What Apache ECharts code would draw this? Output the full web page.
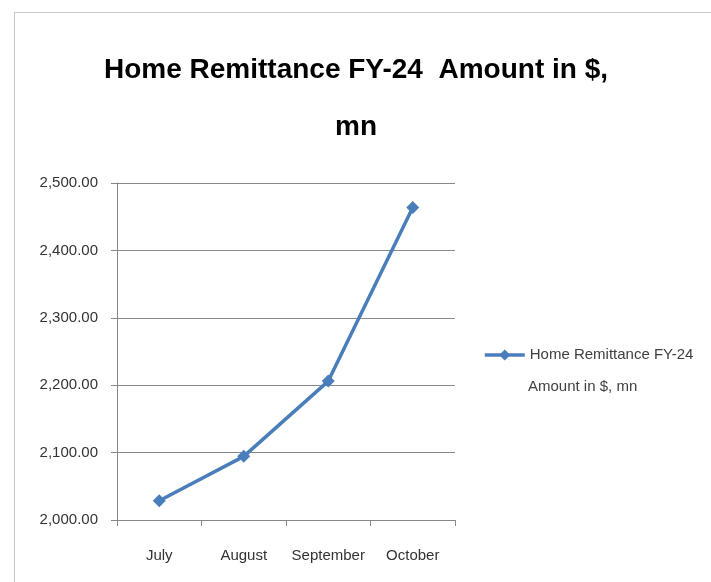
<!DOCTYPE html>
<html>
<head>
    <meta charset="utf-8">
    <title>Home Remittance</title>
    <script src="https://cdn.jsdelivr.net/npm/echarts@6/dist/echarts.min.js"></script>
    <style>
        html, body { margin: 0; padding: 0; background: #fff; overflow: hidden; }
        #main { position: absolute; left: 0; top: 0; width: 711px; height: 582px; }
        #frame { position: absolute; left: 14px; top: 12px; width: 720px; height: 600px; border: 1px solid #c8c8c8; }
    </style>
</head>
<body>
<div id="frame"></div>
<div id="main"></div>
<script type="text/javascript">
    // 数据
    var months = ['July', 'August', 'September', 'October'];
    var remittance = [2028.6, 2094.4, 2206.1, 2463.6];
    var seriesName = 'Home Remittance FY-24 Amount in $, mn';

    var font = '"Liberation Sans", Arial, sans-serif';

    var myChart = echarts.init(document.getElementById('main'));
    var option = {
        animation: false,
        title: {
            text: 'Home Remittance FY-24  Amount in $,\nmn',
            left: 351,
            top: 37,
            textAlign: 'center',
            textStyle: {
                fontFamily: font,
                fontWeight: 'bold',
                fontSize: 28,
                lineHeight: 57,
                color: '#000'
            }
        },
        legend: {
            data: [seriesName],
            left: 483,
            top: 347,
            padding: 0,
            itemWidth: 40,
            itemHeight: 14,
            lineStyle: { width: 3.5 },
            formatter: function () { return 'Home Remittance FY-24'; },
            textStyle: { fontFamily: font, fontSize: 15, lineHeight: 16, color: '#404040' }
        },
        graphic: [{
            type: 'text',
            left: 528,
            top: 379,
            style: { text: 'Amount in $, mn', font: '15px ' + font, fill: '#404040' }
        }],
        grid: { left: 117, right: 256, top: 183, bottom: 62 },
        xAxis: {
            type: 'category',
            data: months,
            boundaryGap: true,
            axisLine: { lineStyle: { color: '#888', width: 1 } },
            axisTick: { show: true, length: 6, lineStyle: { color: '#888' } },
            axisLabel: { interval: 0, fontFamily: font, fontSize: 15, color: '#333', margin: 28 }
        },
        yAxis: {
            type: 'value',
            min: 2000,
            max: 2500,
            interval: 100,
            axisLine: { show: true, lineStyle: { color: '#888', width: 1 } },
            axisTick: { show: true, length: 6, lineStyle: { color: '#888' } },
            splitLine: { lineStyle: { color: '#888', width: 1 } },
            axisLabel: {
                fontFamily: font, fontSize: 15, color: '#333', margin: 19,
                formatter: function (v) {
                    return v.toLocaleString('en-US', { minimumFractionDigits: 2, maximumFractionDigits: 2 });
                }
            }
        },
        series: [{
            name: seriesName,
            type: 'line',
            data: remittance,
            symbol: 'diamond',
            symbolSize: 13,
            lineStyle: { color: '#4a7ebb', width: 3.5 },
            itemStyle: { color: '#4a7ebb' }
        }]
    };
    myChart.setOption(option);
</script>
</body>
</html>
